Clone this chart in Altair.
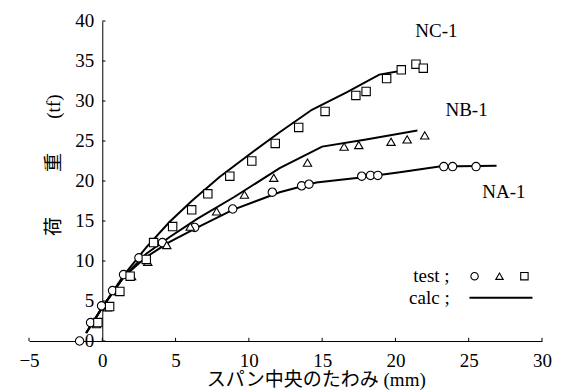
import altair as alt
import pandas as pd

# ---- data ----
na_test_x = [-1.55, -0.8, -0.05, 0.7, 1.45, 2.5, 4.1, 6.3, 8.9, 11.6, 13.6, 14.1, 17.7, 18.3, 18.8, 23.3, 23.9, 25.5]
na_test_y = [0.0, 2.3, 4.4, 6.3, 8.3, 10.4, 12.3, 14.2, 16.5, 18.6, 19.4, 19.6, 20.6, 20.7, 20.7, 21.8, 21.8, 21.8]

nb_test_x = [-0.4, 0.35, 1.1, 2.0, 3.1, 4.4, 6.0, 7.8, 9.7, 11.7, 14.0, 16.5, 17.5, 19.7, 20.8, 22.0]
nb_test_y = [2.1, 4.2, 6.2, 8.1, 9.9, 12.0, 14.3, 16.2, 18.3, 20.4, 22.3, 24.3, 24.5, 24.9, 25.2, 25.7]

nc_test_x = [-0.3, 0.5, 1.2, 1.9, 3.0, 3.5, 4.8, 6.1, 7.2, 8.7, 10.2, 11.8, 13.4, 15.2, 17.3, 18.0, 19.4, 20.4, 21.4, 21.9]
nc_test_y = [2.3, 4.3, 6.2, 8.1, 10.2, 12.3, 14.3, 16.4, 18.4, 20.6, 22.5, 24.7, 26.7, 28.7, 30.7, 31.2, 32.8, 33.9, 34.6, 34.1]

na_calc_x = [-1.1, 0.0, 1.5, 3.0, 4.6, 6.5, 8.9, 12.1, 14.6, 17.5, 20.3, 23.0, 26.9]
na_calc_y = [1.0, 4.2, 8.1, 10.5, 12.4, 14.2, 16.4, 18.6, 19.8, 20.4, 21.1, 21.8, 21.9]

nb_calc_x = [-1.1, 0.0, 1.5, 3.0, 4.6, 6.5, 9.0, 12.1, 15.0, 18.0, 21.5]
nb_calc_y = [1.0, 4.2, 8.1, 10.9, 13.0, 15.3, 18.0, 21.6, 24.3, 25.2, 26.3]

nc_calc_x = [-1.1, 0.0, 1.5, 3.0, 4.6, 6.1, 8.0, 10.1, 12.1, 14.3, 16.7, 18.9, 20.5]
nc_calc_y = [1.0, 4.2, 8.3, 11.7, 14.9, 17.5, 20.5, 23.4, 26.1, 28.9, 31.1, 33.3, 33.8]

series_names = ["NA-1", "NB-1", "NC-1"]
series_shapes = ["circle", "triangle-up", "square"]

x_ticks = [-5, 0, 5, 10, 15, 20, 25, 30]
y_ticks = [0, 5, 10, 15, 20, 25, 30, 35, 40]
y_tick_labels = ["0", "5", "10", "15", "20", "25", "30", "35", "40"]

# label positions (data units)
name_label_x = [27.4, 24.85, 22.8]
name_label_y = [18.6, 28.9, 38.7]

ytitle_parts = ["荷", "重", "(tf)"]
ytitle_y = [14.3, 22.3, 29.3]
ytitle_x = -3.28

xtitle_text = "スパン中央のたわみ (mm)"

legend_text = ["test ;", "calc ;"]
legend_text_y = [8.1, 5.4]
legend_text_x = 23.7
legend_sym_x = [25.4, 27.1, 28.8]
legend_line_x = [25.05, 29.35]

# ---- tables ----
test_rows = []
for name, xs_, ys_ in zip(series_names, [na_test_x, nb_test_x, nc_test_x], [na_test_y, nb_test_y, nc_test_y]):
    for a, b in zip(xs_, ys_):
        test_rows.append({"series": name, "x": a, "y": b})
test_df = pd.DataFrame(test_rows)

calc_rows = []
for name, xs_, ys_ in zip(series_names, [na_calc_x, nb_calc_x, nc_calc_x], [na_calc_y, nb_calc_y, nc_calc_y]):
    for i, (a, b) in enumerate(zip(xs_, ys_)):
        calc_rows.append({"series": name, "x": a, "y": b, "i": i})
calc_df = pd.DataFrame(calc_rows)

W, H = 513, 320
XD, YD = [-5, 30], [0, 40]
xs = alt.Scale(domain=XD, nice=False, zero=False)
ys = alt.Scale(domain=YD, nice=False, zero=False)
SERIF = "Liberation Serif"
MIX = "Liberation Serif, Noto Sans CJK JP"

x_axis = alt.Axis(values=x_ticks, ticks=False, grid=False, title=None,
                  domainColor="black", domainWidth=1,
                  labelFont=SERIF, labelFontSize=19, labelColor="black",
                  labelPadding=10, labelFlush=False, labelOverlap=False)
y_axis = alt.Axis(values=y_ticks, ticks=False, grid=False, title=None, labels=False,
                  domainColor="black", domainWidth=1,
                  offset=-W * (0 - XD[0]) / (XD[1] - XD[0]))

shape_scale = alt.Scale(domain=series_names, range=series_shapes)

lines = alt.Chart(calc_df).mark_line(color="black", strokeWidth=2).encode(
    x=alt.X("x:Q", scale=xs, axis=x_axis),
    y=alt.Y("y:Q", scale=ys, axis=y_axis),
    detail="series:N",
    order="i:Q",
)

points = alt.Chart(test_df).mark_point(filled=False, fill="white", fillOpacity=1,
                                       stroke="black", strokeWidth=1.1, size=70, opacity=1).encode(
    x=alt.X("x:Q", scale=xs),
    y=alt.Y("y:Q", scale=ys),
    shape=alt.Shape("series:N", scale=shape_scale, legend=None),
)

# inward tick marks
xt_df = pd.DataFrame({"v": x_ticks})
yt_df = pd.DataFrame({"v": y_ticks, "lab": y_tick_labels})
xticks = alt.Chart(xt_df).mark_rule(color="black", strokeWidth=1).encode(
    x=alt.X("v:Q", scale=xs), y=alt.datum(0), y2=alt.datum(0.4))
yticks = alt.Chart(yt_df).mark_rule(color="black", strokeWidth=1).encode(
    y=alt.Y("v:Q", scale=ys), x=alt.datum(0), x2=alt.datum(0.22))
ylabels = alt.Chart(yt_df).mark_text(font=SERIF, fontSize=19, color="black",
                                     align="right", baseline="middle", dx=-8).encode(
    y=alt.Y("v:Q", scale=ys), x=alt.datum(0), text="lab:N")

names_df = pd.DataFrame({"t": series_names, "x": name_label_x, "y": name_label_y})
names = alt.Chart(names_df).mark_text(font=SERIF, fontSize=19, color="black").encode(
    x=alt.X("x:Q", scale=xs), y=alt.Y("y:Q", scale=ys), text="t:N")

yt_title_df = pd.DataFrame({"t": ytitle_parts, "y": ytitle_y})
ytitle = alt.Chart(yt_title_df).mark_text(font=MIX, fontSize=19, color="black", angle=270).encode(
    x=alt.datum(ytitle_x), y=alt.Y("y:Q", scale=ys), text="t:N")

xtitle = alt.Chart(pd.DataFrame({"t": [xtitle_text]})).mark_text(
    font=MIX, fontSize=19, color="black").encode(
    x=alt.datum(14.6), y=alt.datum(-4.9), text="t:N")

leg_text_df = pd.DataFrame({"t": legend_text, "y": legend_text_y})
leg_text = alt.Chart(leg_text_df).mark_text(font=SERIF, fontSize=19, color="black", align="right").encode(
    x=alt.datum(legend_text_x), y=alt.Y("y:Q", scale=ys), text="t:N")

leg_sym_df = pd.DataFrame({"series": series_names, "x": legend_sym_x, "y": [legend_text_y[0]] * 3})
leg_sym = alt.Chart(leg_sym_df).mark_point(filled=False, fill="white", fillOpacity=1,
                                           stroke="black", strokeWidth=1.1, size=55, opacity=1).encode(
    x=alt.X("x:Q", scale=xs), y=alt.Y("y:Q", scale=ys),
    shape=alt.Shape("series:N", scale=shape_scale, legend=None))

leg_line = alt.Chart(pd.DataFrame({"x": [legend_line_x[0]], "x2": [legend_line_x[1]], "y": [legend_text_y[1]]})).mark_rule(
    color="black", strokeWidth=2).encode(
    x=alt.X("x:Q", scale=xs), x2="x2:Q", y=alt.Y("y:Q", scale=ys))

chart = alt.layer(lines, points, xticks, yticks, ylabels, names, ytitle, xtitle,
                  leg_text, leg_sym, leg_line).properties(
    width=W, height=H,
    autosize=alt.AutoSizeParams(type="none"),
    padding={"left": 29, "top": 21, "right": 23, "bottom": 49},
    background="white",
).configure_view(stroke=None)

chart.save("out.html", embed_options={"renderer": "svg", "actions": False})
